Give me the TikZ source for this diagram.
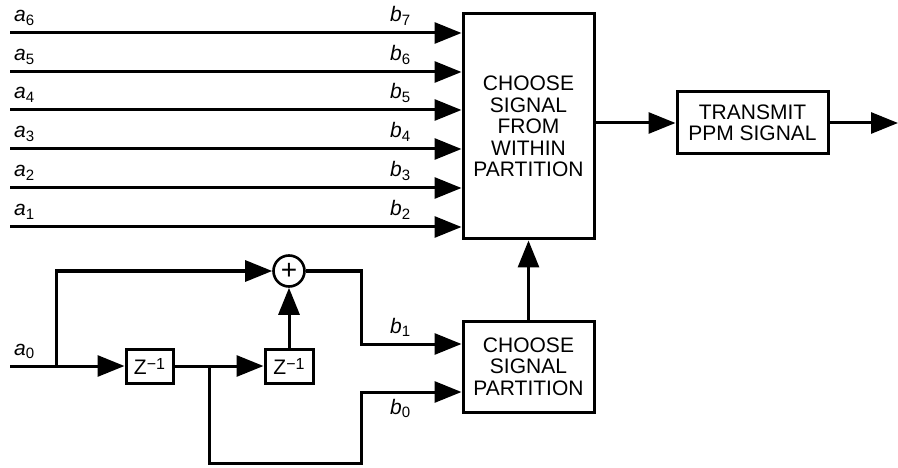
\documentclass[tikz,border=0pt]{standalone}
\usepackage{fontspec}
\setmainfont{Liberation Sans}
\usetikzlibrary{arrows.meta,positioning,calc}

\newcommand{\sig}[2]{\textit{#1}\raisebox{-3.5pt}{\fontsize{15}{15}\selectfont #2}}
\newcommand{\zinv}{Z\raisebox{5pt}{\fontsize{16}{16}\selectfont\char"2212 1}}

\begin{document}
\begin{tikzpicture}[
      x=1pt, y=-1pt,
      every node/.style={font=\fontsize{21}{21.5}\selectfont},
      arr/.style={-{Triangle[length=27pt, width=21pt]}, line width=3pt},
      blk/.style={draw, line width=3pt, align=center, inner sep=0pt},
      lbl/.style={inner sep=0pt, anchor=base west}
  ]
    \useasboundingbox (0,0) rectangle (898,468);

    % ---- Blocks ----
    \node[blk, minimum width=131, minimum height=225] (within) at (528.5,126.5)
          {CHOOSE\\SIGNAL\\FROM\\WITHIN\\PARTITION};
    \node[blk, minimum width=131, minimum height=91] (part) at (528.5,366.5)
          {CHOOSE\\SIGNAL\\PARTITION};
    \node[blk, minimum width=151, minimum height=62] (tx) at (752.5,123)
          {TRANSMIT\\PPM SIGNAL};

    % ---- Delay line and adder ----
    \node[blk, minimum width=47, minimum height=34] (z1) at (149.5,366) {\zinv};
    \node[blk, minimum width=48, minimum height=34] (z2) at (289,366) {\zinv};
    \node[draw, circle, line width=2.6pt, minimum size=31, inner sep=0pt,
          font=\fontsize{28}{28}\selectfont] (sum) at (289,271) {+};

    % ---- Uncoded inputs a1..a6 ----
    \foreach \y/\a/\b in {33/6/7, 72/5/6, 110/4/5, 149/3/4, 188/2/3, 227/1/2} {
      \coordinate (in\a) at (10,\y);
      \draw[arr] (in\a) -- (in\a -| within.west);
      \node[lbl] (la\a) at (14,{\y-11}) {\sig{a}{\a}};
      \node[lbl] (lb\b) at (390,{\y-11}) {\sig{b}{\b}};
    }

    % ---- Coded input a0 ----
    \coordinate (a0in) at (10,366);
    \coordinate (split1) at (56,366);
    \coordinate (split2) at (209,366);
    \coordinate (loop) at (361,463);
    \coordinate (b0turn) at (361,392);
    \coordinate (b1turn) at (361,344);
    \node[lbl] (la0) at (14,355) {\sig{a}{0}};

    \draw[arr] (a0in) -- (z1.west);
    \draw[arr] (split1) |- (sum);
    \draw[arr] (z1) -- (z2);
    \draw[arr] (z2) -- (sum);
    \draw[arr] (sum) -| (b1turn) -- (b1turn -| part.west);
    \draw[arr] (split2) |- (loop) -- (b0turn) -- (b0turn -| part.west);
    \node[lbl] (lb1) at (390,333) {\sig{b}{1}};
    \node[lbl] (lb0) at (390,414) {\sig{b}{0}};

    % ---- Output path ----
    \coordinate (out) at (898,123);
    \draw[arr] (part) -- (within);
    \draw[arr] (within.east |- tx.west) -- (tx.west);
    \draw[arr] (tx) -- (out);

  \end{tikzpicture}
\end{document}
